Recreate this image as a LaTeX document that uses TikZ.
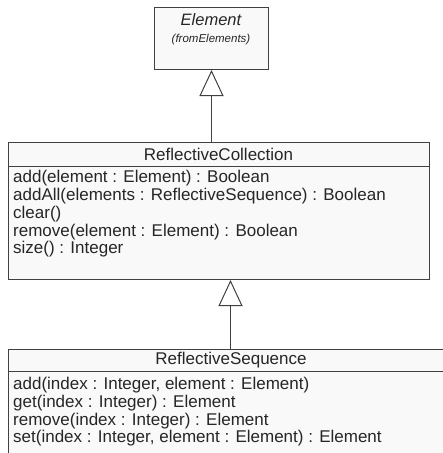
\documentclass[tikz,border=0pt]{standalone}
\usepackage{fontspec}
\setmainfont{Liberation Sans}
\usetikzlibrary{arrows.meta}
\definecolor{boxfill}{HTML}{F9F9F9}
\definecolor{edge}{HTML}{404040}
\begin{document}
\begin{tikzpicture}[x=1pt,y=-1pt,
  classbox/.style={draw=edge, line width=1pt, fill=boxfill, anchor=north west, inner sep=0pt},
  optext/.style={anchor=west, inner sep=0pt, font=\fontsize{17}{18}\selectfont, text height=12.5pt, text depth=3.6pt, text=black!85},
  headtext/.style={inner sep=0pt, font=\fontsize{17}{18}\selectfont, text=black!85},
  gen/.style={draw=edge, line width=1pt, -{Triangle[open, length=26pt, width=24pt, fill=white]}}]
\clip (0,0) rectangle (443,453);
\useasboundingbox (0,0) rectangle (443,453);
% Element (abstract, imported)
\node[classbox, minimum width=114pt, minimum height=62pt] (elem) at (154,7) {};
\node[headtext, font=\fontsize{16.5}{18}\selectfont\itshape] (elemname) at (211,20) {Element};
\node[headtext, font=\fontsize{11.5}{13}\selectfont\itshape] (elemfrom) at (211,40) {(fromElements)};
% ReflectiveCollection
\node[classbox, minimum width=421pt, minimum height=137pt] (coll) at (8,142) {};
\draw[edge, line width=1pt] (8,166) -- (429,166);
\node[headtext] (collname) at (218.5,154.5) {ReflectiveCollection};
\node[optext] (c1) at (13,178.5) {add(element : Element) : Boolean};
\node[optext] (c2) at (13,196.5) {addAll(elements : ReflectiveSequence) : Boolean};
\node[optext] (c3) at (13,214.5) {clear()};
\node[optext] (c4) at (13,232) {remove(element : Element) : Boolean};
\node[optext] (c5) at (13,249.5) {size() : Integer};
% ReflectiveSequence
\node[classbox, minimum width=444pt, minimum height=140pt] (seq) at (8,349) {};
\draw[edge, line width=1pt] (8,371) -- (452,371);
\node[headtext] (seqname) at (231,360.5) {ReflectiveSequence};
\node[optext] (s1) at (13,385) {add(index : Integer, element : Element)};
\node[optext] (s2) at (13,403) {get(index : Integer) : Element};
\node[optext] (s3) at (13,421) {remove(index : Integer) : Element};
\node[optext] (s4) at (13,438.5) {set(index : Integer, element : Element) : Element};
% generalizations
\draw[gen] (elem.south |- coll.north) -- (elem.south);
\draw[gen] (seq.north) -- (seq.north |- coll.south);
\end{tikzpicture}
\end{document}
